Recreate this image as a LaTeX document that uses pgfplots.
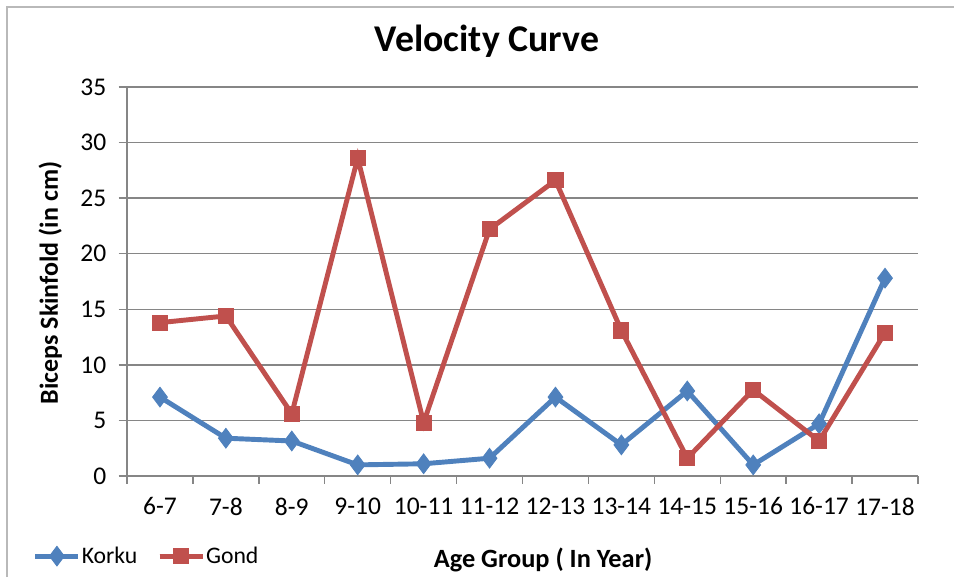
\documentclass[border=0pt]{standalone}
\usepackage{pgfplots}
\pgfplotsset{compat=1.18}
\usepackage{fontspec}
\setmainfont{Carlito}
\definecolor{korku}{HTML}{4F81BD}
\definecolor{gond}{HTML}{C0504D}
\definecolor{gridgray}{HTML}{868686}
\begin{document}
\begin{tikzpicture}
\path[use as bounding box] (0,0) rectangle (19.08cm,11.54cm);
\draw[gray!55, line width=0.8pt] (0.14cm,0) -- (0.14cm,11.40cm) -- (19.08cm,11.40cm);
\begin{axis}[
    at={(2.54cm,2.02cm)}, anchor=south west,
    scale only axis,
    width=15.82cm, height=7.78cm,
    xmin=0.5, xmax=12.5,
    ymin=0, ymax=35,
    ytick={0,5,...,35},
    xtick={1,...,12},
    xticklabels={6-7,7-8,8-9,9-10,10-11,11-12,12-13,13-14,14-15,15-16,16-17,17-18},
    minor xtick={0.5,1.5,...,12.5},
    major x tick style={draw=none},
    minor tick length=0.15cm,
    major tick length=0.17cm,
    tick align=outside,
    xtick pos=bottom, ytick pos=left,
    ymajorgrids,
    grid style={gridgray, line width=0.8pt},
    axis x line*=bottom, axis y line*=left,
    axis line style={gridgray, line width=0.8pt, -},
    tick style={gridgray, line width=0.8pt},
    every tick label/.append style={font=\fontsize{14.5}{17}\selectfont},
    /pgf/number format/assume math mode=true,
    xticklabel style={yshift=-0.14cm},
    yticklabel style={xshift=-0.12cm},
    title={Velocity Curve},
    title style={font=\bfseries\fontsize{21.5}{24}\selectfont, at={(0.455,1.09)}, anchor=center},
    xlabel={Age Group ( In Year)},
    xlabel style={font=\bfseries\fontsize{15}{17}\selectfont, at={(0.526,-0.216)}, anchor=center},
    ylabel={Biceps Skinfold (in cm)},
    ylabel style={font=\bfseries\fontsize{14.8}{17}\selectfont, at={(-0.097,0.496)}, anchor=center, rotate=0},
    legend style={at={(-0.126,-0.206)}, anchor=west, draw=none, fill=none,
        font=\fontsize{13.5}{16}\selectfont, legend columns=2,
        /tikz/every even column/.append style={column sep=0.38cm},
        nodes={inner xsep=0.5pt}},
    legend image code/.code={
        \draw[#1] (0cm,0cm) -- (0.86cm,0cm);
        \draw[#1, mark repeat=2, mark phase=2] plot coordinates {(0cm,0cm) (0.43cm,0cm) (0.86cm,0cm)};
    },
]
\addplot[korku, line width=2.8pt, mark=diamond*, mark size=5.6pt,
    mark options={fill=korku, line width=0.5pt}] coordinates {
    (1,7.1) (2,3.4) (3,3.15) (4,1.0) (5,1.1) (6,1.6)
    (7,7.1) (8,2.8) (9,7.65) (10,1.0) (11,4.7) (12,17.8)};
\addplot[gond, line width=2.8pt, mark=square*, mark size=4.3pt,
    mark options={fill=gond, line width=0.5pt}] coordinates {
    (1,13.8) (2,14.4) (3,5.6) (4,28.6) (5,4.8) (6,22.2)
    (7,26.6) (8,13.1) (9,1.6) (10,7.75) (11,3.15) (12,12.9)};
\legend{Korku,Gond}
\end{axis}
\end{tikzpicture}
\end{document}
